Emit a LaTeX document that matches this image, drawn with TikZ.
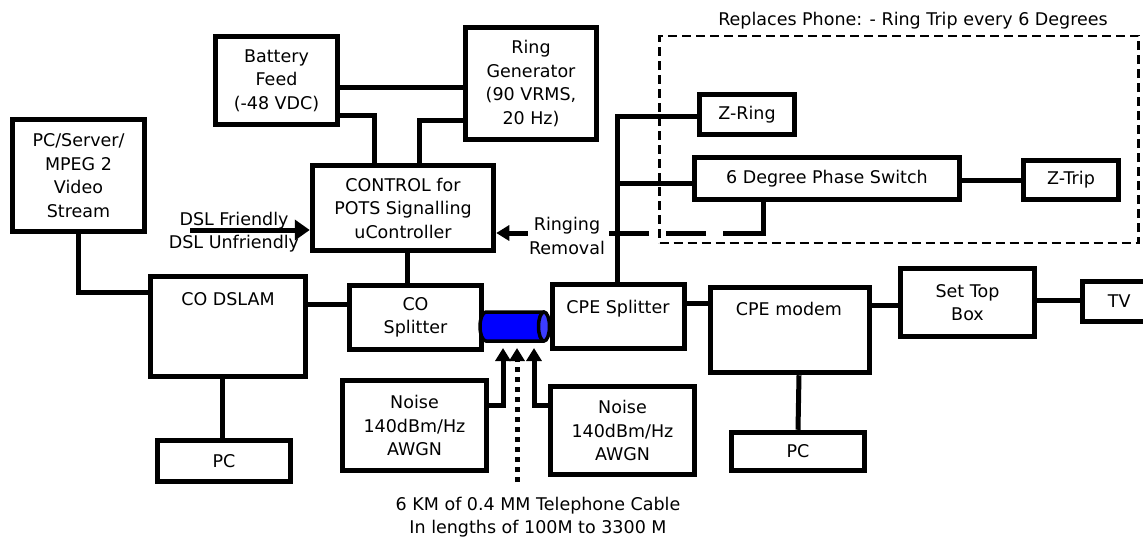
\documentclass[tikz,border=0pt]{standalone}
\usepackage{fontspec}
\setmainfont{DejaVu Sans}
\usetikzlibrary{arrows.meta}
\definecolor{cabblue}{RGB}{0,0,255}
\definecolor{capblue}{RGB}{60,60,255}
\begin{document}
\begin{tikzpicture}[x=1pt,y=-1pt,
  txt/.style={inner sep=0pt, align=center, font=\fontsize{17.5}{23.5}\selectfont},
  box/.style={txt, draw, line width=5pt},
  conn/.style={line width=5pt},
  arr/.style={conn, -{Triangle[length=13pt,width=15pt]}},
  bigarr/.style={conn, -{Triangle[length=15pt,width=20pt]}},
  dbox/.style={draw, line width=2.5pt, dash pattern=on 9pt off 5pt, inner sep=0pt}]
\useasboundingbox (0,0) rectangle (1143,539);

% boxes
\node[box, minimum width=132.5, minimum height=112.5] (pcs) at (78.5,175.5) {PC/Server/\\MPEG 2\\Video\\Stream};
\node[box, minimum width=122.5, minimum height=88.5] (bat) at (276.5,80.5) {Battery\\Feed\\(-48 VDC)};
\node[box, minimum width=131.5, minimum height=112.5] (ring) at (531,83.5) {Ring\\Generator\\(90 VRMS,\\20 Hz)};
\node[box, minimum width=181.5, minimum height=85.5] (ctrl) at (403,208) {CONTROL for\\POTS Signalling\\uController};
\node[box, minimum width=155.5, minimum height=100.5] (dslam) at (228,326.5) {};
\node[txt, anchor=base] (dslamt) at (228,305) {CO DSLAM};
\node[box, minimum width=132.5, minimum height=64.5] (cosp) at (415.5,317.5) {CO\\Splitter};
\node[box, minimum width=132.5, minimum height=64.5] (cpesp) at (618.5,316.5) {};
\node[txt, anchor=base] (cpespt) at (618,313) {CPE Splitter};
\node[box, minimum width=159.5, minimum height=85.5] (modem) at (790,330) {};
\node[txt, anchor=base] (modemt) at (789,315) {CPE modem};
\node[box, minimum width=134.5, minimum height=68.5] (stb) at (967.5,302.5) {Set Top\\Box};
\node[box, minimum width=80, minimum height=40.5, text width=70] (tv) at (1122.25,301.5) {\hspace*{-6pt}TV};
\node[box, minimum width=133.5, minimum height=41.5] (pcl) at (224,461) {PC};
\node[box, minimum width=133.5, minimum height=38.5] (pcr) at (798,451.5) {PC};
\node[box, minimum width=144.5, minimum height=90.5] (noisel) at (414.5,425.5) {Noise\\140dBm/Hz\\AWGN};
\node[box, minimum width=144.5, minimum height=88.5] (noiser) at (622.5,430.5) {Noise\\140dBm/Hz\\AWGN};
\node[box, minimum width=95.5, minimum height=40.5] (zring) at (747,114.5) {Z-Ring};
\node[box, minimum width=265.5, minimum height=42.5] (phase) at (827,178.5) {6 Degree Phase Switch};
\node[box, minimum width=95.5, minimum height=39.5] (ztrip) at (1071,180) {Z-Trip};

% dashed enclosure and its title
\node[dbox, minimum width=479, minimum height=207] (encl) at (899,139.5) {};
\node[txt, anchor=base] (encllbl) at (913,25) {Replaces Phone: - Ring Trip every 6 Degrees};

% cable
\draw[line width=3.5pt, fill=cabblue] (544,312) -- (486,312)
  arc[start angle=270, end angle=90, x radius=6, y radius=14.5] -- (544,341);
\draw[line width=3.5pt, fill=capblue] (544,326.5) ellipse[x radius=5.5, y radius=14.5];
\coordinate (cabL) at (503,348);
\coordinate (cabM) at (517,348);
\coordinate (cabR) at (534,348);
\coordinate (dotS) at (517,482);
\node[txt] (cablbl) at (538,517) {6 KM of 0.4 MM Telephone Cable\\In lengths of 100M to 3300 M};

% connectors
\draw[conn] (pcs.south) |- (dslam.west |- 0,292);
\draw[conn] (dslam.east |- 0,304) -- (cosp.west |- 0,304);
\draw[conn] (dslam.south -| 222,0) -- (pcl.north -| 222,0);
\draw[conn] (ctrl.south -| 407,0) -- (cosp.north -| 407,0);
\draw[conn] (bat.east |- 0,87) -- (ring.west |- 0,87);
\draw[conn] (bat.east |- 0,115) -| (ctrl.north -| 374,0);
\draw[conn] (ring.west |- 0,120) -| (ctrl.north -| 419,0);
\draw[conn] (zring.west |- 0,116) -| (cpesp.north -| 617,0);
\coordinate (vb) at (617,183);
\draw[conn] (phase.west |- vb) -- (vb);
\draw[conn] (phase.east |- 0,180) -- (ztrip.west |- 0,180);
\draw[conn] (cpesp.east |- 0,303) -- (modem.west |- 0,303);
\draw[conn] (modem.east |- 0,305) -- (stb.west |- 0,305);
\draw[conn] (stb.east |- 0,300) -- (tv.west |- 0,300);
\draw[conn] (modem.south -| 799,0) -- (pcr.north -| 798,0);

% DSL arrow
\coordinate (dslS) at (190,230);
\draw[bigarr] (dslS) -- (ctrl.west |- dslS);
\node[txt, anchor=base] (dslf) at (234,225) {DSL Friendly};
\node[txt, anchor=base] (dslu) at (234,248) {DSL Unfriendly};

% ringing removal
\coordinate (rrc) at (763,233);
\draw[conn] (phase.south -| rrc) |- ([xshift=-30pt]rrc);
\draw[arr, dash pattern=on 40pt off 17pt] (rrc) -- (ctrl.east |- rrc);
\node[txt, fill=white, inner sep=1pt] (rrlbl) at (567,236) {Ringing\\Removal};

% noise arrows
\draw[arr] (noisel.east |- 0,405) -| (cabL);
\draw[arr] (noiser.west |- 0,405) -| (cabR);
\draw[arr, dash pattern=on 5pt off 5pt] (dotS) -- (cabM);
\end{tikzpicture}
\end{document}
